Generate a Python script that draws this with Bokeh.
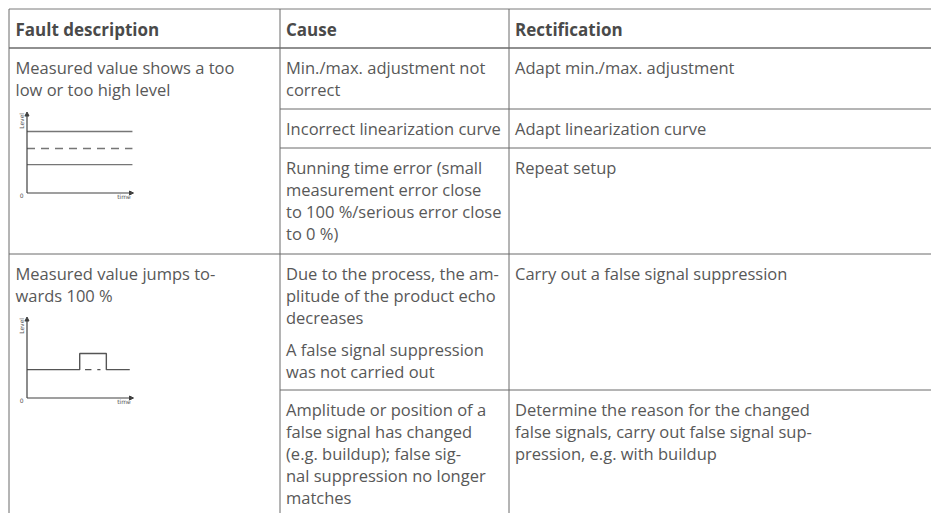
from math import pi
from bokeh.plotting import figure
from bokeh.models import Range1d, Arrow, NormalHead
from bokeh.core.properties import value
from bokeh.embed import file_html
from bokeh.resources import INLINE

# ---------------- table content ----------------
headers = ["Fault description", "Cause", "Rectification"]

fault_1 = ["Measured value shows a too", "low or too high level"]
fault_2 = ["Measured value jumps to-", "wards 100 %"]

cause_1a = ["Min./max. adjustment not", "correct"]
cause_1b = ["Incorrect linearization curve"]
cause_1c = ["Running time error (small", "measurement error close",
            "to 100 %/serious error close", "to 0 %)"]
cause_2a = ["Due to the process, the am-", "plitude of the product echo", "decreases"]
cause_2a_note = ["A false signal suppression", "was not carried out"]
cause_2b = ["Amplitude or position of a", "false signal has changed",
            "(e.g. buildup); false sig-", "nal suppression no longer", "matches"]

fix_1a = ["Adapt min./max. adjustment"]
fix_1b = ["Adapt linearization curve"]
fix_1c = ["Repeat setup"]
fix_2a = ["Carry out a false signal suppression"]
fix_2b = ["Determine the reason for the changed",
          "false signals, carry out false signal sup-",
          "pression, e.g. with buildup"]

# ---------------- mini charts (time 0..100, level 0..100) ----------------
m1_time = [0, 99]
m1_high = [76, 76]
m1_true = [55, 55]
m1_low = [35, 35]

m2_time = [0, 49.5, 49.5, 74.5, 74.5, 96.5]
m2_level = [35, 35, 55, 55, 35, 35]
m2_true_time = [[54.5, 60.5], [66, 69]]
m2_true_level = [[35, 35], [35, 35]]

# ---------------- layout ----------------
PAGE = 0
W, H = 931, 513
LH = 22.0           # line height
FIRST = 19.5        # cell top -> first line centre
PARA = 9.5          # paragraph gap

X_L, X_C1, X_C2, X_R = 8.5, 279.5, 508.5, 960
Y_T, Y_HEAD = 8.5, 47.5
Y_1B, Y_1C, Y_2, Y_2B, Y_B = 108.5, 147.5, 253.5, 389.5, 540
TX = [15, 285.5, 514.5]

p = figure(width=W, height=H, output_backend="svg", toolbar_location=None,
           x_range=Range1d(PAGE, PAGE + W), y_range=Range1d(PAGE + H, PAGE),
           x_axis_type=None, y_axis_type=None, min_border=0)
p.grid.visible = False
p.outline_line_color = None
p.background_fill_color = "white"
p.border_fill_color = "white"

GRID = "#6a6a6a"
# rules
p.segment(x0=[X_L], y0=[Y_T], x1=[X_R], y1=[Y_T], line_color="#7a7a7a", line_width=1)
p.segment(x0=[X_L], y0=[Y_HEAD], x1=[X_R], y1=[Y_HEAD], line_color="#222222", line_width=1.2)
p.segment(x0=[X_L, X_C1, X_C2], y0=[Y_T] * 3, x1=[X_L, X_C1, X_C2], y1=[Y_B] * 3,
          line_color=GRID, line_width=1)
p.segment(x0=[X_C1, X_C1, X_L, X_C1], y0=[Y_1B, Y_1C, Y_2, Y_2B],
          x1=[X_R] * 4, y1=[Y_1B, Y_1C, Y_2, Y_2B], line_color=GRID, line_width=1)

# text
xs, ys, ts = [], [], []


def cell(col, top, lines, offset=0.0):
    for i, t in enumerate(lines):
        xs.append(TX[col])
        ys.append(top + FIRST + i * LH + offset)
        ts.append(t)


cell(0, Y_HEAD, fault_1)
cell(0, Y_2, fault_2)
cell(1, Y_HEAD, cause_1a)
cell(1, Y_1B, cause_1b)
cell(1, Y_1C, cause_1c)
cell(1, Y_2, cause_2a)
cell(1, Y_2, cause_2a_note, offset=len(cause_2a) * LH + PARA)
cell(1, Y_2B, cause_2b)
cell(2, Y_HEAD, fix_1a)
cell(2, Y_1B, fix_1b)
cell(2, Y_1C, fix_1c)
cell(2, Y_2, fix_2a)
cell(2, Y_2B, fix_2b)

FONT = value("Open Sans")
p.text(x=xs, y=ys, text=ts, text_font=FONT, text_font_size="16.5px",
       text_color="#585858", text_baseline="middle", text_align="left")
p.text(x=TX, y=[29] * 3, text=headers, text_font=FONT, text_font_size="17px",
       text_font_style="bold", text_color="#4a4a4a", text_baseline="middle",
       text_align="left")


# ---------------- mini charts through extra ranges ----------------
def x_range_for(v0, v1, p0, p1):
    k = (p1 - p0) / (v1 - v0)
    return Range1d(v0 + (PAGE - p0) / k, v0 + (PAGE + W - p0) / k)


def y_range_for(v0, v1, p0, p1):
    k = (p1 - p0) / (v1 - v0)
    return Range1d(v0 + (PAGE + H - p0) / k, v0 + (PAGE - p0) / k)


ORG_X, TIP_X = 26.5, 133
p.extra_x_ranges = {"mx": x_range_for(0, 100, ORG_X, TIP_X)}
p.extra_y_ranges = {
    "m1y": y_range_for(0, 100, Y_HEAD + 145, Y_HEAD + 64),
    "m2y": y_range_for(0, 100, Y_2 + 144, Y_2 + 63),
}

AX = "#404040"
SIG = "#767676"
for yr in ["m1y", "m2y"]:
    p.add_layout(Arrow(end=NormalHead(size=4, line_color=AX, fill_color=AX, line_width=1),
                       x_start=0, y_start=0, x_end=100, y_end=0, line_color=AX, line_width=1.2,
                       x_range_name="mx", y_range_name=yr))
    p.add_layout(Arrow(end=NormalHead(size=4, line_color=AX, fill_color=AX, line_width=1),
                       x_start=0, y_start=0, x_end=0, y_end=100, line_color=AX, line_width=1.2,
                       x_range_name="mx", y_range_name=yr))
    p.text(x=[-5], y=[89], text=["Level"], angle=pi / 2, text_font=value("DejaVu Sans"),
           text_font_size="6px", text_color="#555555", text_align="center",
           text_baseline="middle", x_range_name="mx", y_range_name=yr)
    p.text(x=[-5], y=[-3], text=["0"], text_font=value("DejaVu Sans"),
           text_font_size="6px", text_color="#555555", text_align="center",
           text_baseline="middle", x_range_name="mx", y_range_name=yr)
    p.text(x=[91], y=[-4], text=["time"], text_font=value("DejaVu Sans"),
           text_font_size="6px", text_color="#555555", text_align="center",
           text_baseline="middle", x_range_name="mx", y_range_name=yr)

p.line(m1_time, m1_high, line_color=SIG, line_width=1.4, x_range_name="mx", y_range_name="m1y")
p.line(m1_time, m1_true, line_color=SIG, line_width=1.4, line_dash="8 6",
       x_range_name="mx", y_range_name="m1y")
p.line(m1_time, m1_low, line_color=SIG, line_width=1.4, x_range_name="mx", y_range_name="m1y")

p.line(m2_time, m2_level, line_color="#555555", line_width=1.4,
       x_range_name="mx", y_range_name="m2y")
p.multi_line(m2_true_time, m2_true_level, line_color="#555555", line_width=1.4,
             x_range_name="mx", y_range_name="m2y")

open("out.html", "w").write(file_html(p, INLINE))
